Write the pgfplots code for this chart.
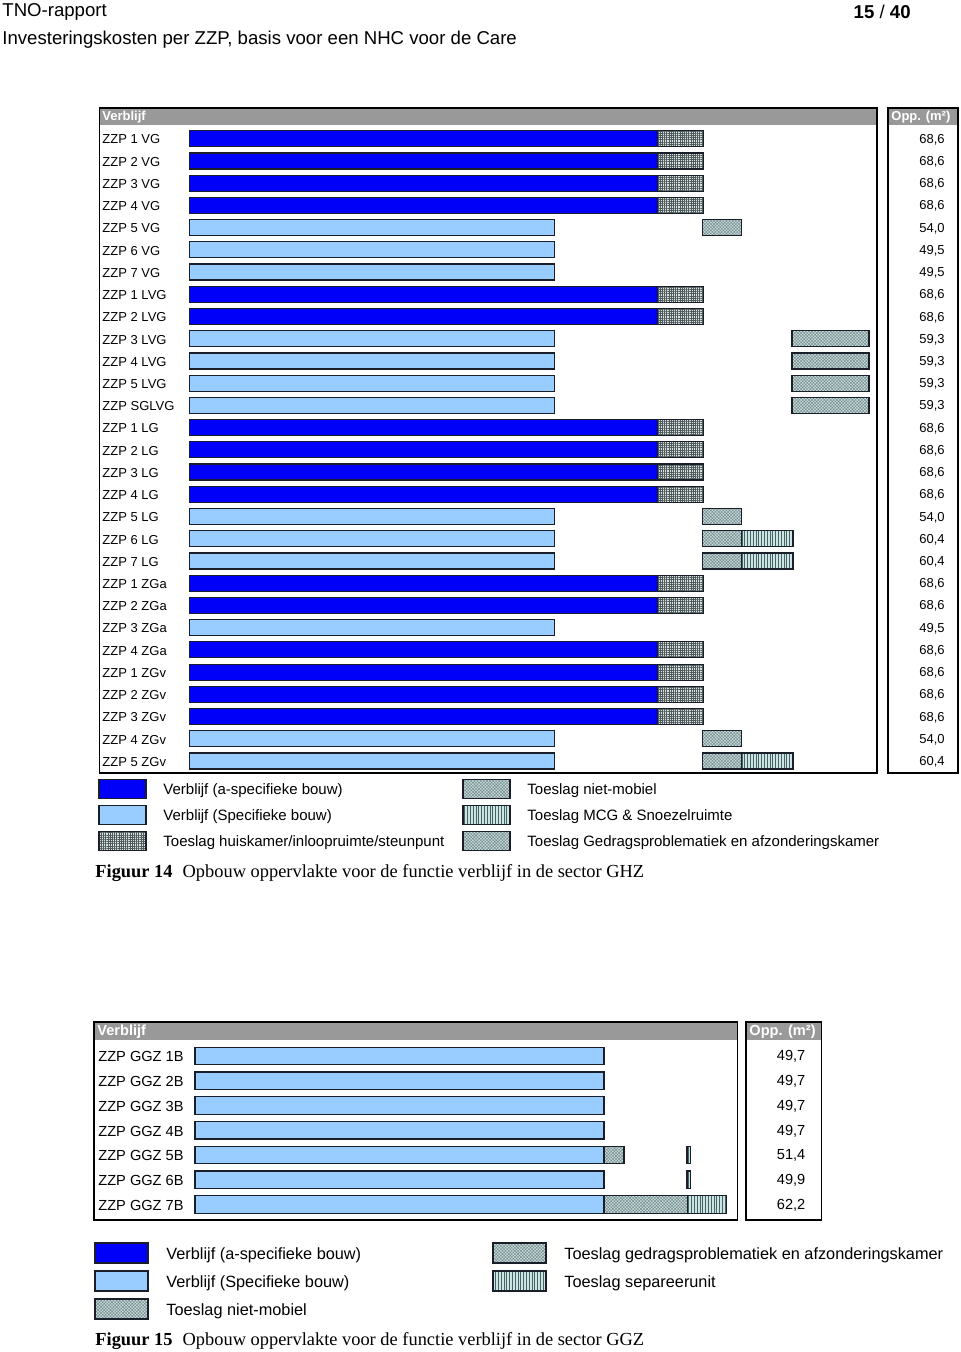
\documentclass[border=0pt]{standalone}
\usepackage{pgfplots}
\pgfplotsset{compat=1.18}
\usepackage{pgfplotstable}
\usetikzlibrary{patterns.meta}
\usepackage{fontspec}
\setmainfont{Liberation Sans}
\newfontfamily\serif{Liberation Serif}

\definecolor{cblue}{RGB}{0,0,250}
\definecolor{clight}{RGB}{153,204,255}
\definecolor{hdr}{RGB}{153,153,153}
\definecolor{outl}{RGB}{25,30,40}
\definecolor{nmbase}{RGB}{200,222,222}
\definecolor{nmline}{RGB}{115,135,135}
\definecolor{hkbase}{RGB}{215,225,225}
\definecolor{hkline}{RGB}{80,90,90}
\definecolor{mcbase}{RGB}{205,228,228}
\definecolor{mcline}{RGB}{70,100,100}

\tikzset{
 barA/.style={draw=outl, line width=0.6pt, fill=cblue},
 barB/.style={draw=outl, line width=0.6pt, fill=clight},
 barHK/.style={draw=outl, line width=0.6pt, preaction={fill=hkbase}, pattern={Hatch[angle=0,distance=1.1pt,line width=0.3pt]}, pattern color=hkline},
 barNM/.style={draw=outl, line width=0.6pt, preaction={fill=nmbase}, pattern={Hatch[angle=45,distance=1.1pt,line width=0.22pt]}, pattern color=nmline},
 barMC/.style={draw=outl, line width=0.6pt, preaction={fill=mcbase}, pattern={Lines[angle=90,distance=1.4pt,line width=0.45pt]}, pattern color=mcline},
 gapbar/.style={draw=none, fill=none},
}

\newcommand\lab{\fontsize{6.5}{7.8}\selectfont}
\newcommand\labg{\fontsize{7.3}{8.8}\selectfont}
\newcommand\leg{\fontsize{7.5}{9}\selectfont}
\newcommand\legg{\fontsize{8.15}{9.7}\selectfont}
\newcommand\capfont{\serif\fontsize{9.2}{11}\selectfont}

% GHZ: segment lengths (px-scale units, bars start at 0)
\pgfplotstableread{
row blue lb huis gap nm mcg ged
0 468 0 46 0 0 0 0
1 468 0 46 0 0 0 0
2 468 0 46 0 0 0 0
3 468 0 46 0 0 0 0
4 0 365 0 148 39 0 0
5 0 365 0 0 0 0 0
6 0 365 0 0 0 0 0
7 468 0 46 0 0 0 0
8 468 0 46 0 0 0 0
9 0 365 0 238 0 0 77
10 0 365 0 238 0 0 77
11 0 365 0 238 0 0 77
12 0 365 0 238 0 0 77
13 468 0 46 0 0 0 0
14 468 0 46 0 0 0 0
15 468 0 46 0 0 0 0
16 468 0 46 0 0 0 0
17 0 365 0 148 39 0 0
18 0 365 0 148 39 52 0
19 0 365 0 148 39 52 0
20 468 0 46 0 0 0 0
21 468 0 46 0 0 0 0
22 0 365 0 0 0 0 0
23 468 0 46 0 0 0 0
24 468 0 46 0 0 0 0
25 468 0 46 0 0 0 0
26 468 0 46 0 0 0 0
27 0 365 0 148 39 0 0
28 0 365 0 148 39 52 0
}\ghz

% GGZ
\pgfplotstableread{
row lb nm gap ged sep
0 409 0 0 0 0
1 409 0 0 0 0
2 409 0 0 0 0
3 409 0 0 0 0
4 409 20 63 0 3.4
5 409 0 83 0 3.4
6 409 0 0 83.3 39
}\ggz

\pgfplotsset{
 rowaxis/.style={scale only axis, y dir=reverse, xbar stacked,
   axis line style={draw=none}, xtick=\empty, major tick length=0pt,
   ytick style={draw=none}, clip=false, anchor=center},
}

\begin{document}
\begin{tikzpicture}
\begin{scope}[x=0.5pt,y=-0.5pt]
\path[use as bounding box] (0,0) rectangle (960,1352);
% page header
\node[anchor=west, inner sep=0pt, font=\fontsize{9.3}{11}\selectfont] at (2,11.5) {TNO-rapport};
\node[anchor=east, inner sep=0pt, font=\fontsize{9.3}{11}\selectfont] at (911,11.5) {\textbf{15} / \textbf{40}};
\node[anchor=west, inner sep=0pt, font=\fontsize{9.3}{11}\selectfont] at (2,40) {Investeringskosten per ZZP, basis voor een NHC voor de Care};
% frames GHZ
\fill[hdr] (99.5,108) rectangle (877,125);
\fill[hdr] (888,108) rectangle (958,125);
\draw[line width=0.7pt] (99.5,108) rectangle (877,773);
\draw[line width=0.7pt] (888,108) rectangle (958,773);
\node[anchor=west, inner sep=0pt, text=white, font=\lab\bfseries] at (102,117) {Verblijf};
\node[anchor=west, inner sep=0pt, text=white, font=\lab\bfseries] at (891,117) {Opp. (m²)};
% frames GGZ
\fill[hdr] (94,1022) rectangle (737.5,1039.5);
\fill[hdr] (746,1022) rectangle (821.7,1039.5);
\draw[line width=0.7pt] (94,1022) rectangle (737.5,1220);
\draw[line width=0.7pt] (746,1022) rectangle (821.7,1220);
\node[anchor=west, inner sep=0pt, text=white, font=\labg\bfseries] at (97,1032) {Verblijf};
\node[anchor=west, inner sep=0pt, text=white, font=\labg\bfseries] at (749,1032) {Opp. (m²)};
% legend GHZ
\draw[barA] (99,779.5) rectangle (146,798.5);
\draw[barB] (99,805.5) rectangle (146,824.5);
\draw[barHK] (99,831.5) rectangle (146,850.5);
\draw[barNM] (463,779.5) rectangle (510,798.5);
\draw[barMC] (463,805.5) rectangle (510,824.5);
\draw[barNM] (463,831.5) rectangle (510,850.5);
\node[anchor=west, inner sep=0pt, font=\leg] at (163,791) {Verblijf (a-specifieke bouw)};
\node[anchor=west, inner sep=0pt, font=\leg] at (163,817) {Verblijf (Specifieke bouw)};
\node[anchor=west, inner sep=0pt, font=\leg] at (163,843) {Toeslag huiskamer/inloopruimte/steunpunt};
\node[anchor=west, inner sep=0pt, font=\leg] at (527,791) {Toeslag niet-mobiel};
\node[anchor=west, inner sep=0pt, font=\leg] at (527,817) {Toeslag MCG \& Snoezelruimte};
\node[anchor=west, inner sep=0pt, font=\leg] at (527,843) {Toeslag Gedragsproblematiek en afzonderingskamer};
\node[anchor=west, inner sep=0pt, font=\capfont] at (95,873) {\textbf{Figuur 14}\hspace{0.55em}Opbouw oppervlakte voor de functie verblijf in de sector GHZ};
% legend GGZ
\draw[barA] (95,1243) rectangle (148,1263);
\draw[barB] (95,1271) rectangle (148,1291);
\draw[barNM] (95,1299) rectangle (148,1319);
\draw[barNM] (493,1243) rectangle (546,1263);
\draw[barMC] (493,1271) rectangle (546,1291);
\node[anchor=west, inner sep=0pt, font=\legg] at (166,1255) {Verblijf (a-specifieke bouw)};
\node[anchor=west, inner sep=0pt, font=\legg] at (166,1283) {Verblijf (Specifieke bouw)};
\node[anchor=west, inner sep=0pt, font=\legg] at (166,1311) {Toeslag niet-mobiel};
\node[anchor=west, inner sep=0pt, font=\legg] at (564,1255) {Toeslag gedragsproblematiek en afzonderingskamer};
\node[anchor=west, inner sep=0pt, font=\legg] at (564,1283) {Toeslag separeerunit};
\node[anchor=west, inner sep=0pt, font=\capfont] at (95,1341) {\textbf{Figuur 15}\hspace{0.55em}Opbouw oppervlakte voor de functie verblijf in de sector GGZ};
\end{scope}

% GHZ bars
\begin{axis}[rowaxis, at={(244.125pt,-224.5pt)}, width=388.75pt, height=324pt,
  xmin=-90, xmax=688, ymin=-0.617, ymax=28.54, bar width=8pt,
  ytick={0,...,28},
  yticklabels={ZZP 1 VG,ZZP 2 VG,ZZP 3 VG,ZZP 4 VG,ZZP 5 VG,ZZP 6 VG,ZZP 7 VG,ZZP 1 LVG,ZZP 2 LVG,ZZP 3 LVG,ZZP 4 LVG,ZZP 5 LVG,ZZP SGLVG,ZZP 1 LG,ZZP 2 LG,ZZP 3 LG,ZZP 4 LG,ZZP 5 LG,ZZP 6 LG,ZZP 7 LG,ZZP 1 ZGa,ZZP 2 ZGa,ZZP 3 ZGa,ZZP 4 ZGa,ZZP 1 ZGv,ZZP 2 ZGv,ZZP 3 ZGv,ZZP 4 ZGv,ZZP 5 ZGv},
  yticklabel style={anchor=west, inner sep=0pt, xshift=1.3pt, yshift=-0.4pt, font=\lab}]
\addplot[barA] table[x=blue,y=row]{\ghz};
\addplot[barB] table[x=lb,y=row]{\ghz};
\addplot[barHK] table[x=huis,y=row]{\ghz};
\addplot[gapbar] table[x=gap,y=row]{\ghz};
\addplot[barNM] table[x=nm,y=row]{\ghz};
\addplot[barMC] table[x=mcg,y=row]{\ghz};
\addplot[barNM] table[x=ged,y=row]{\ghz};
\end{axis}
\begin{axis}[rowaxis, at={(461.5pt,-224.5pt)}, width=35pt, height=324pt,
  xmin=0, xmax=1, ymin=-0.617, ymax=28.54,
  ytick={0,...,28}, yticklabel pos=right,
  yticklabels={{68,6},{68,6},{68,6},{68,6},{54,0},{49,5},{49,5},{68,6},{68,6},{59,3},{59,3},{59,3},{59,3},{68,6},{68,6},{68,6},{68,6},{54,0},{60,4},{60,4},{68,6},{68,6},{49,5},{68,6},{68,6},{68,6},{68,6},{54,0},{60,4}},
  yticklabel style={anchor=east, inner sep=0pt, xshift=-6.5pt, yshift=-0.4pt, font=\lab}]
\end{axis}

% GGZ bars
\begin{axis}[rowaxis, at={(207.875pt,-565pt)}, width=321.75pt, height=90pt,
  xmin=-101, xmax=542.5, ymin=-0.646, ymax=6.626, bar width=8.75pt,
  ytick={0,...,6},
  yticklabels={ZZP GGZ 1B,ZZP GGZ 2B,ZZP GGZ 3B,ZZP GGZ 4B,ZZP GGZ 5B,ZZP GGZ 6B,ZZP GGZ 7B},
  yticklabel style={anchor=west, inner sep=0pt, xshift=2pt, yshift=-0.4pt, font=\labg}]
\addplot[barB] table[x=lb,y=row]{\ggz};
\addplot[barNM] table[x=nm,y=row]{\ggz};
\addplot[gapbar] table[x=gap,y=row]{\ggz};
\addplot[barNM] table[x=ged,y=row]{\ggz};
\addplot[barMC] table[x=sep,y=row]{\ggz};
\end{axis}
\begin{axis}[rowaxis, at={(391.925pt,-565pt)}, width=37.85pt, height=90pt,
  xmin=0, xmax=1, ymin=-0.646, ymax=6.626,
  ytick={0,...,6}, yticklabel pos=right,
  yticklabels={{49,7},{49,7},{49,7},{49,7},{51,4},{49,9},{62,2}},
  yticklabel style={anchor=east, inner sep=0pt, xshift=-8pt, yshift=-0.4pt, font=\labg}]
\end{axis}
\end{tikzpicture}
\end{document}
